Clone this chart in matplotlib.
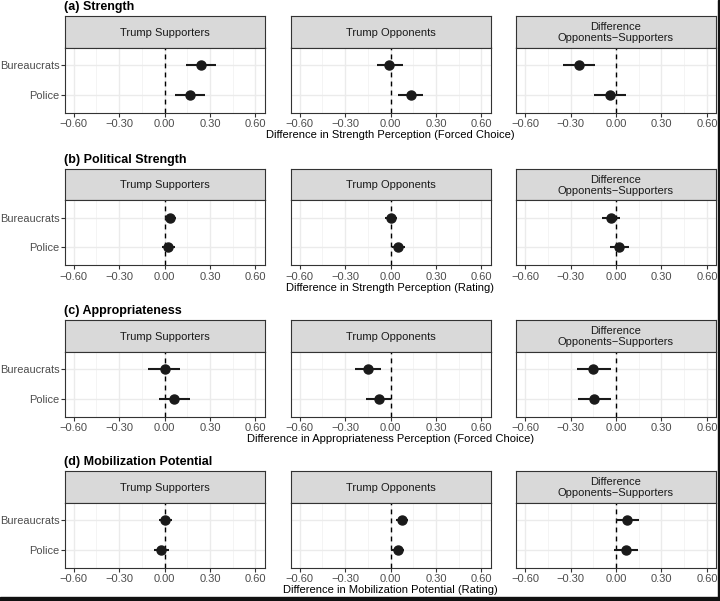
import matplotlib
matplotlib.use("Agg")
import matplotlib.pyplot as plt
import numpy as np

plt.rcParams['font.family'] = ['Liberation Sans', 'DejaVu Sans']

# categories / labels
groups = ["Bureaucrats", "Police"]
facets = ["Trump Supporters", "Trump Opponents", "Difference\nOpponents\u2212Supporters"]
titles = ["(a) Strength", "(b) Political Strength", "(c) Appropriateness", "(d) Mobilization Potential"]
xlabels = ["Difference in Strength Perception (Forced Choice)",
           "Difference in Strength Perception (Rating)",
           "Difference in Appropriateness Perception (Forced Choice)",
           "Difference in Mobilization Potential (Rating)"]
xticks = [-0.6, -0.3, 0.0, 0.3, 0.6]
xticklabels = ["\u22120.60", "\u22120.30", "0.00", "0.30", "0.60"]

# estimates [facet] -> (bureaucrats, police)
est_a = [[0.238, 0.167], [-0.007, 0.133], [-0.245, -0.040]]
lo_a = [[0.141, 0.070], [-0.090, 0.049], [-0.351, -0.143]]
hi_a = [[0.337, 0.269], [0.082, 0.217], [-0.139, 0.068]]

est_b = [[0.039, 0.024], [0.000, 0.050], [-0.036, 0.021]]
lo_b = [[0.000, -0.015], [-0.035, 0.009], [-0.094, -0.040]]
hi_b = [[0.076, 0.068], [0.040, 0.094], [0.027, 0.088]]

est_c = [[0.000, 0.064], [-0.149, -0.076], [-0.149, -0.143]]
lo_c = [[-0.106, -0.036], [-0.234, -0.161], [-0.255, -0.252]]
hi_c = [[0.100, 0.167], [-0.061, 0.006], [-0.036, -0.030]]

est_d = [[0.003, -0.021], [0.079, 0.050], [0.073, 0.064]]
lo_d = [[-0.036, -0.067], [0.039, 0.000], [0.000, -0.010]]
hi_d = [[0.049, 0.027], [0.115, 0.088], [0.152, 0.143]]

ests = [est_a, est_b, est_c, est_d]
los = [lo_a, lo_b, lo_c, lo_d]
his = [hi_a, hi_b, hi_c, hi_d]

W, H = 720, 601
fig = plt.figure(figsize=(W / 100, H / 100), dpi=100)


def ax_at(x0, y0, w, h):
    return fig.add_axes([x0 / W, 1 - (y0 + h) / H, w / W, h / H])


col_x = [64.5, 290.5, 516]
pw = 200
row_y = [16, 168.5, 320, 471]
sh = 31.5
ph = 65
ypos = np.array([2, 1])

for r in range(4):
    y0 = row_y[r]
    fig.text(col_x[0] / W, 1 - (y0 - 9) / H, titles[r], fontsize=9, fontweight='bold',
             ha='left', va='center')
    for c in range(3):
        # strip
        sax = ax_at(col_x[c], y0, pw, sh)
        sax.set_facecolor('#D9D9D9')
        sax.set_xticks([])
        sax.set_yticks([])
        for s in sax.spines.values():
            s.set_color('#333333')
            s.set_linewidth(0.8)
        sax.text(0.5, 0.47, facets[c], fontsize=8, color='#1A1A1A', ha='center', va='center',
                 linespacing=1.15, transform=sax.transAxes)

        ax = ax_at(col_x[c], y0 + sh, pw, ph)
        ax.set_xlim(-0.66, 0.66)
        ax.set_ylim(0.4, 2.6)
        for m in [-0.45, -0.15, 0.15, 0.45]:
            ax.axvline(m, color='#F2F2F2', lw=0.6, zorder=0)
        for t in xticks:
            ax.axvline(t, color='#EBEBEB', lw=1.0, zorder=0)
        for yy in ypos:
            ax.axhline(yy, color='#EBEBEB', lw=1.0, zorder=0)
        ax.axvline(0, color='black', lw=1.0, dashes=(3.5, 3), zorder=1)
        e = np.array(ests[r][c])
        ax.hlines(ypos, los[r][c], his[r][c], color='#1A1A1A', lw=1.5, zorder=2)
        ax.plot(e, ypos, 'o', color='#1A1A1A', ms=6.5, zorder=3)

        ax.set_xticks(xticks)
        ax.set_xticklabels(xticklabels)
        ax.tick_params(axis='x', length=2.75, width=0.8, color='#333333', labelsize=8,
                       labelcolor='#4D4D4D', pad=2)
        if c == 0:
            ax.set_yticks(ypos)
            ax.set_yticklabels(groups)
            ax.tick_params(axis='y', length=2.75, width=0.8, color='#333333', labelsize=7.9,
                           labelcolor='#4D4D4D', pad=0.8)
        else:
            ax.set_yticks([])
        for s in ax.spines.values():
            s.set_color('#333333')
            s.set_linewidth(0.8)
        if c == 1:
            ax.set_xlabel(xlabels[r], fontsize=8, color='black', labelpad=1)

# dark screenshot edges
fig.patches.append(plt.Rectangle((718 / W, 0), 2 / W, 1, transform=fig.transFigure,
                                 color='#111111', zorder=10))
fig.patches.append(plt.Rectangle((0, 0), 1, 4 / H, transform=fig.transFigure,
                                 color='#111111', zorder=10))

fig.savefig("out.png", dpi=100)
